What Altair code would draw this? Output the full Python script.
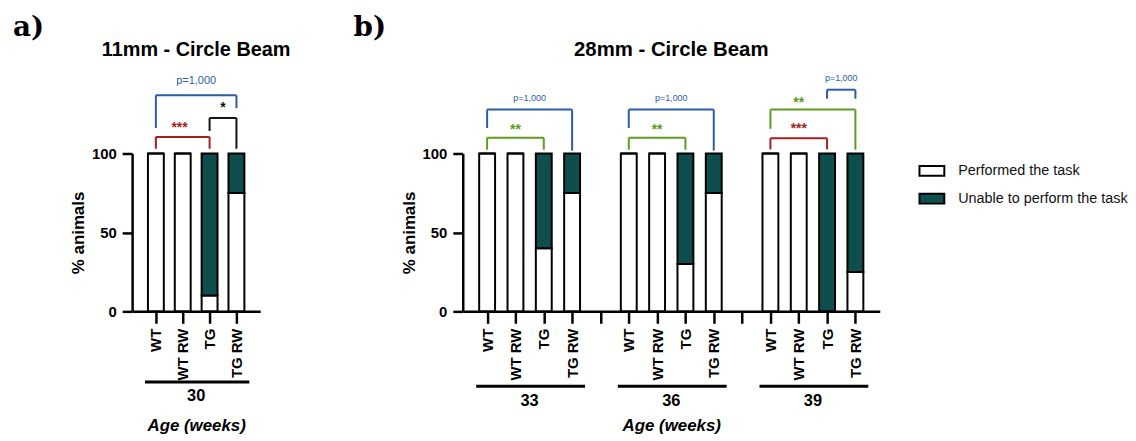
import altair as alt
import pandas as pd

# ---------------- data ----------------
groups = ["WT", "WT RW", "TG", "TG RW"]
statuses = ["Performed the task", "Unable to perform the task"]
status_colors = ["#ffffff", "#0e4f4d"]

ages_a = ["30"]
performed_30 = [100, 100, 10, 75]
unable_30 = [0, 0, 90, 25]

ages_b = ["33", "36", "39"]
performed_33 = [100, 100, 40, 75]
unable_33 = [0, 0, 60, 25]
performed_36 = [100, 100, 30, 75]
unable_36 = [0, 0, 70, 25]
performed_39 = [100, 100, 0, 25]
unable_39 = [0, 0, 100, 75]

# statistical comparisons
comp_a_age = ["30", "30", "30"]
comp_a_from = ["WT", "WT", "TG"]
comp_a_to = ["TG RW", "TG", "TG RW"]
comp_a_label = ["p=1,000", "***", "*"]

comp_b_age = ["33", "33", "36", "36", "39", "39", "39"]
comp_b_from = ["WT", "WT", "WT", "WT", "WT", "WT", "TG"]
comp_b_to = ["TG RW", "TG", "TG RW", "TG", "TG RW", "TG", "TG RW"]
comp_b_label = ["p=1,000", "**", "p=1,000", "**", "**", "***", "p=1,000"]

# ---------------- annotation layout (bracket heights in % units, label shift in slots, colours) ----
BLUE, RED, GREEN, BLACK = "#2b5ca8", "#a81e1e", "#5c9c1e", "#111111"
geom_a = [  # (bar level, left leg end, right leg end, label level, label shift, colour)
    (136.9, 116.2, 128.7, 145.7, 0.0, BLUE),
    (110.5, 103.0, 103.0, 118.7, -0.12, RED),
    (122.5, 114.3, 103.0, 131.3, 0.0, BLACK),
]
geom_b = [
    (127.8, 116.2, 101.8, 134.9, 0.0, BLUE),
    (109.9, 102.4, 102.4, 117.3, 0.0, GREEN),
    (127.8, 116.2, 101.8, 134.9, 0.0, BLUE),
    (109.9, 102.4, 102.4, 117.3, 0.0, GREEN),
    (127.8, 115.6, 102.4, 134.7, -0.5, GREEN),
    (109.6, 102.6, 102.6, 117.7, 0.0, RED),
    (140.4, 134.7, 134.7, 147.7, 0.0, BLUE),
]

FONT = "Liberation Sans"
SLOT = 5  # 4 groups + 1 gap per age block


def bar_frame(ages, perf_lists, unab_lists):
    rows = []
    for ai, age in enumerate(ages):
        for gi, g in enumerate(groups):
            pos = ai * SLOT + gi
            rows.append(dict(pos=pos, status=statuses[0], ord=0, value=perf_lists[ai][gi]))
            rows.append(dict(pos=pos, status=statuses[1], ord=1, value=unab_lists[ai][gi]))
    return pd.DataFrame(rows)


def bracket_frame(ages, age_list, frm, to, labels, geom):
    rows = []
    for a, f, t, lab, (yb, yl, yr, ly, sh, col) in zip(age_list, frm, to, labels, geom):
        ai = ages.index(a)
        x1 = ai * SLOT + groups.index(f)
        x2 = ai * SLOT + groups.index(t)
        rows.append(dict(x1=x1, x2=x2, xm=(x1 + x2) / 2 + sh, y=yb, yl=yl, yr=yr,
                         ly=ly, col=col, label=lab, isp=lab.startswith("p")))
    return pd.DataFrame(rows)


def age_frame(ages, y_line, y_text):
    rows = []
    for ai, age in enumerate(ages):
        rows.append(dict(x1=ai * SLOT, x2=ai * SLOT + 3, xm=ai * SLOT + 1.5,
                         age=age, yl=y_line, yt=y_text))
    return pd.DataFrame(rows)


label_expr = "[" + ",".join("'%s'" % g for g in groups + [""]) + "][datum.value % " + str(SLOT) + "]"

legend = alt.Legend(
    orient="none", legendX=792, legendY=4, title=None,
    symbolType="M-1,-0.4H1V0.4H-1Z", symbolSize=625,
    symbolStrokeColor="black", symbolStrokeWidth=2, symbolOpacity=1,
    labelFont=FONT, labelFontSize=14.5, labelColor="#111111", labelOffset=13,
    labelLimit=0, rowPadding=5, padding=0,
)


def panel(bars_df, br_df, age_df, n_slots, xdom, width, letter, letter_dx, title, title_size, p_size):
    xs = alt.Scale(domain=xdom, nice=False, zero=False)
    ys = alt.Scale(domain=[0, 100], nice=False, zero=True)
    x_axis = alt.Axis(
        values=list(range(n_slots)), tickCount=n_slots, labelExpr=label_expr, labelAngle=270,
        labelAlign="right", labelBaseline="middle", labelFont=FONT, labelFontSize=15,
        labelFontWeight="bold", labelColor="black", labelPadding=5, labelFlush=False,
        labelOverlap=False, tickSize=12, tickWidth=2.5, tickColor="black",
        domainColor="black", domainWidth=2.5, grid=False,
        title="Age (weeks)", titleFont=FONT, titleFontSize=17, titleFontStyle="italic",
        titleFontWeight="bold", titleColor="black", titlePadding=38,
    )
    y_axis = alt.Axis(
        values=[0, 50, 100], tickCount=3, labelFont=FONT, labelFontSize=15, labelFontWeight="bold",
        labelColor="black", labelPadding=6, tickSize=10, tickWidth=2.5, tickColor="black",
        domainColor="black", domainWidth=2.5, grid=False,
        title="% animals", titleFont=FONT, titleFontSize=17, titleFontWeight="bold",
        titleColor="black", titlePadding=4,
    )
    bars = alt.Chart(bars_df).mark_bar(width=16, stroke="black", strokeWidth=2).encode(
        x=alt.X("pos:Q", scale=xs, axis=x_axis),
        y=alt.Y("value:Q", stack="zero", scale=ys, axis=y_axis),
        color=alt.Color("status:N", scale=alt.Scale(domain=statuses, range=status_colors),
                        legend=legend),
        order=alt.Order("ord:Q", sort="ascending"),
    )
    base = alt.Chart(br_df)
    horiz = base.mark_rule(strokeWidth=2).encode(
        x=alt.X("x1:Q", scale=xs), x2="x2:Q",
        y=alt.Y("y:Q", scale=ys),
        stroke=alt.Stroke("col:N", scale=None))
    left = base.mark_rule(strokeWidth=2).encode(
        x=alt.X("x1:Q", scale=xs),
        y=alt.Y("y:Q", scale=ys), y2="yl:Q",
        stroke=alt.Stroke("col:N", scale=None))
    right = base.mark_rule(strokeWidth=2).encode(
        x=alt.X("x2:Q", scale=xs),
        y=alt.Y("y:Q", scale=ys), y2="yr:Q",
        stroke=alt.Stroke("col:N", scale=None))
    ptext = base.transform_filter("datum.isp").mark_text(
        font=FONT, fontSize=p_size, baseline="middle", align="center").encode(
        x=alt.X("xm:Q", scale=xs), y=alt.Y("ly:Q", scale=ys),
        text="label:N", fill=alt.Fill("col:N", scale=None))
    stext = base.transform_filter("!datum.isp").mark_text(
        font=FONT, fontSize=14, fontWeight="bold", baseline="middle", align="center", dy=4).encode(
        x=alt.X("xm:Q", scale=xs), y=alt.Y("ly:Q", scale=ys),
        text="label:N", fill=alt.Fill("col:N", scale=None))
    abase = alt.Chart(age_df)
    aline = abase.mark_rule(strokeWidth=3, color="black", xOffset=-11, x2Offset=13).encode(
        x=alt.X("x1:Q", scale=xs), x2="x2:Q",
        y=alt.Y("yl:Q", scale=ys))
    atext = abase.mark_text(font=FONT, fontSize=16.5, fontWeight="bold", color="black",
                            baseline="middle", align="center").encode(
        x=alt.X("xm:Q", scale=xs), y=alt.Y("yt:Q", scale=ys),
        text="age:N")
    ttl = alt.Chart(pd.DataFrame({"t": [title]})).mark_text(
        font=FONT, fontSize=title_size, fontWeight="bold", color="black",
        baseline="middle", align="center").encode(
        text="t:N", x=alt.value(width / 2), y=alt.value(-104))
    let = alt.Chart(pd.DataFrame({"t": [letter]})).mark_text(
        font="DejaVu Serif", fontSize=28, fontWeight="bold", color="black",
        baseline="alphabetic", align="left").encode(
        text="t:N", x=alt.value(letter_dx), y=alt.value(-118))
    return alt.layer(bars, horiz, left, right, ptext, stext, aline, atext, ttl, let).properties(
        width=width, height=159)


bars_a = bar_frame(ages_a, [performed_30], [unable_30])
bars_b = bar_frame(ages_b, [performed_33, performed_36, performed_39],
                   [unable_33, unable_36, unable_39])
br_a = bracket_frame(ages_a, comp_a_age, comp_a_from, comp_a_to, comp_a_label, geom_a)
br_b = bracket_frame(ages_b, comp_b_age, comp_b_from, comp_b_to, comp_b_label, geom_b)
age_a = age_frame(ages_a, -44.8, -53.6)
age_b = age_frame(ages_b, -47.5, -57.1)

pa = panel(bars_a, br_a, age_a, 4, [-0.7, 3.7], 129, "a)", -120, "11mm - Circle Beam", 20, 11)
pb = panel(bars_b, br_b, age_b, 14, [-0.685, 13.685], 420, "b)", -110, "28mm - Circle Beam", 20.5, 9)

chart = alt.hconcat(pa, pb, spacing=63).properties(
    padding={"left": 5, "top": 5, "right": 0, "bottom": 0}
).configure_view(stroke=None)

chart.save("out.html", embed_options={"renderer": "svg", "actions": False})
